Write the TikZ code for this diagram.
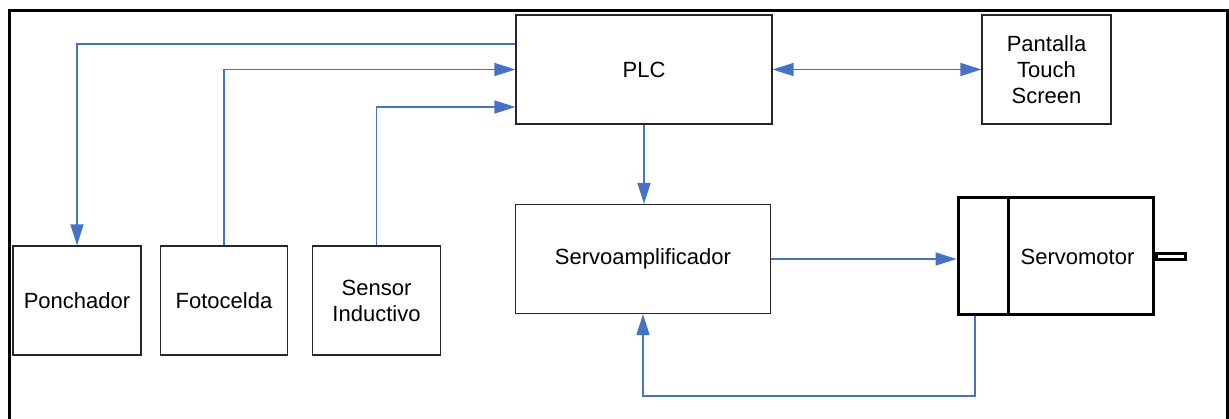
\documentclass[tikz,border=0pt]{standalone}
\usepackage{fontspec}
\setmainfont{Liberation Sans}
\usetikzlibrary{arrows.meta}
\definecolor{azul}{RGB}{68,114,196}
\tikzset{
      bloque/.style={draw=black!85, line width=1.2, rectangle, minimum height=109, align=center,
            font=\fontsize{22}{26}\selectfont},
      wire/.style={draw=azul, line width=1.5, -{Triangle[length=21pt,width=13pt]}},
      wire2/.style={draw=azul, line width=1.5, {Triangle[length=21pt,width=13pt]}-{Triangle[length=21pt,width=13pt]}},
      motor/.style={draw=black, line width=3, rectangle, minimum width=195, minimum height=117},
}
\begin{document}
\begin{tikzpicture}[x=1pt,y=-1pt]
        \useasboundingbox (0,0) rectangle (1229,419);
        % marco
        \draw[line width=3] (9.5,419) -- (9.5,10.5) -- (1227.5,10.5) -- (1227.5,419);

        % bloques
        \node[bloque, minimum width=256] (plc) at (644,69.5) {PLC};
        \node[bloque, minimum width=129] (pantalla) at (1046.5,69.5) {Pantalla\\Touch\\Screen};
        \node[bloque, minimum width=255] (servoamp) at (643,259) {Servoamplificador};
        \node[bloque, minimum width=128] (ponchador) at (77,300.5) {Ponchador};
        \node[bloque, minimum width=127] (fotocelda) at (224,300.5) {Fotocelda};
        \node[bloque, minimum width=128] (sensor) at (376.5,300.5) {Sensor\\Inductivo};

        % servomotor
        \node[motor, label={[xshift=22, font=\fontsize{22}{26}\selectfont]center:Servomotor}] (servomotor) at (1055.5,256.5) {};
        \coordinate (div) at (1008,0);
        \draw[line width=3] (servomotor.north -| div) -- (servomotor.south -| div);
        \node[draw=black, line width=3, rectangle, minimum width=29, minimum height=6.5, inner sep=0,
              anchor=west] (eje) at (servomotor.east) {};

        % conexiones
        \coordinate (c1) at (0,44);
        \coordinate (c2) at (0,107);
        \coordinate (fb) at (975,396);
        \draw[wire] (plc.west |- c1) -| (ponchador.north);
        \draw[wire] (fotocelda.north) |- (plc.west);
        \draw[wire] (sensor.north) |- (plc.west |- c2);
        \draw[wire2] (plc.east) -- (pantalla.west);
        \draw[wire] (plc.south) -- (plc.south |- servoamp.north);
        \draw[wire] (servoamp.east) -- (servoamp.east -| servomotor.west);
        \draw[wire] (servomotor.south -| fb) -- (fb) -| (servoamp.south);

    \end{tikzpicture}
\end{document}
